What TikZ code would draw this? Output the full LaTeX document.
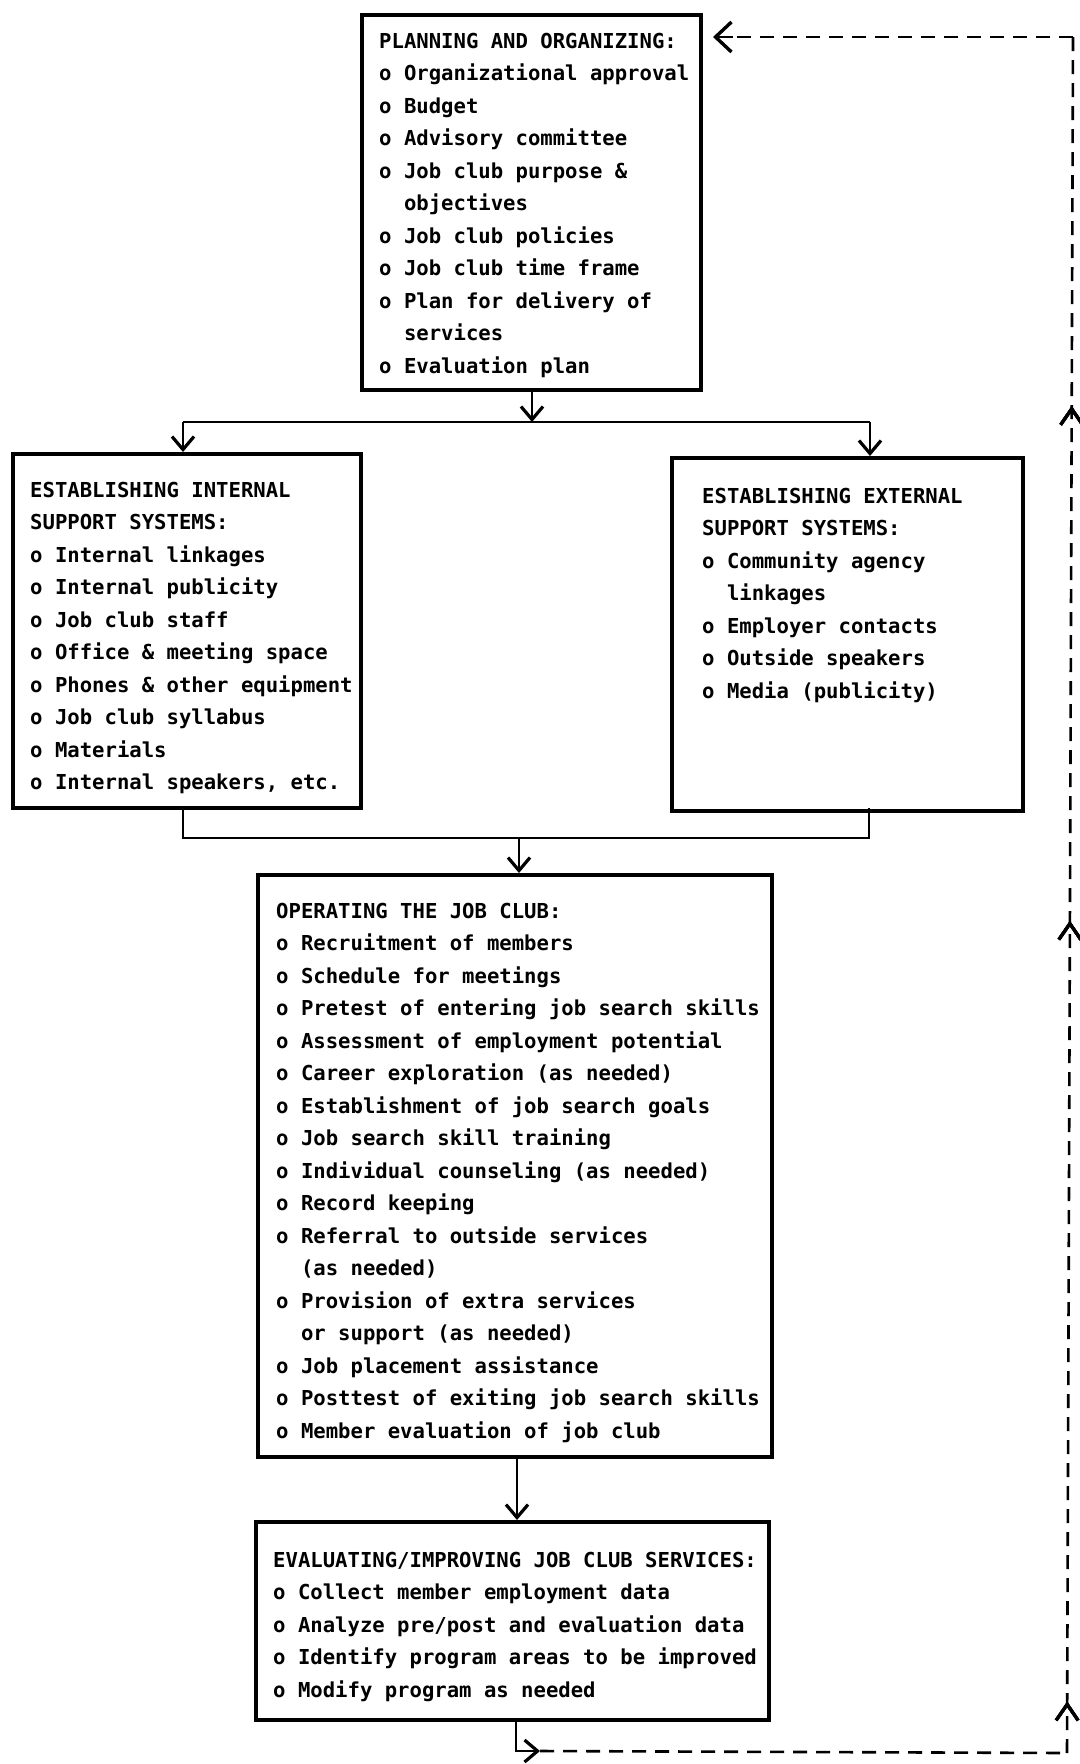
\documentclass[tikz,border=0pt]{standalone}
\usepackage{fontspec}
\newfontfamily\typew{DejaVu Sans Mono}
\usetikzlibrary{arrows.meta,decorations.markings,calc}
\tikzset{
  box/.style={draw=black, line width=3.6pt, fill=none, inner sep=0pt, anchor=north west},
  txt/.style={anchor=north west, inner sep=0pt, align=left,
    font=\typew\bfseries\fontsize{20.6pt}{32.5pt}\selectfont},
  conn/.style={draw=black, line width=2.6pt},
  tip/.style={-{Straight Barb[length=13pt,width=22pt,line width=3.2pt]}},
  dashline/.style={draw=black, line width=2.6pt, dash pattern=on 14pt off 9pt},
  uptip/.style={decoration={markings,
     mark=at position #1 with {\arrow{Straight Barb[length=16pt,width=22pt,line width=3.2pt]}}},
     postaction={decorate}}
}
\newcommand{\ind}{\phantom{o }}
\newcommand{\fs}{\rule{0pt}{16pt}}
\begin{document}
\begin{tikzpicture}[x=1pt,y=-1pt]
\useasboundingbox (0,0) rectangle (1079,1764);
\fill[white] (0,0) rectangle (1079,1764);

% boxes
\node[box, minimum width=339pt, minimum height=375pt] (b1) at (360,13) {};
\node[box, minimum width=348pt, minimum height=354pt] (b2) at (11,452) {};
\node[box, minimum width=351pt, minimum height=353pt] (b3) at (670,456) {};
\node[box, minimum width=514pt, minimum height=582pt] (b4) at (256,873) {};
\node[box, minimum width=513pt, minimum height=198pt] (b5) at (254,1520) {};

% texts
\node[txt] (t1) at (379,32) {\fs PLANNING AND ORGANIZING:\\
o Organizational approval\\
o Budget\\
o Advisory committee\\
o Job club purpose \&\\
\ind objectives\\
o Job club policies\\
o Job club time frame\\
o Plan for delivery of\\
\ind services\\
o Evaluation plan};

\node[txt] (t2) at (30,481) {\fs ESTABLISHING INTERNAL\\
SUPPORT SYSTEMS:\\
o Internal linkages\\
o Internal publicity\\
o Job club staff\\
o Office \& meeting space\\
o Phones \& other equipment\\
o Job club syllabus\\
o Materials\\
o Internal speakers, etc.};

\node[txt] (t3) at (702,487) {\fs ESTABLISHING EXTERNAL\\
SUPPORT SYSTEMS:\\
o Community agency\\
\ind linkages\\
o Employer contacts\\
o Outside speakers\\
o Media (publicity)};

\node[txt] (t4) at (276,902) {\fs OPERATING THE JOB CLUB:\\
o Recruitment of members\\
o Schedule for meetings\\
o Pretest of entering job search skills\\
o Assessment of employment potential\\
o Career exploration (as needed)\\
o Establishment of job search goals\\
o Job search skill training\\
o Individual counseling (as needed)\\
o Record keeping\\
o Referral to outside services\\
\ind (as needed)\\
o Provision of extra services\\
\ind or support (as needed)\\
o Job placement assistance\\
o Posttest of exiting job search skills\\
o Member evaluation of job club};

\node[txt] (t5) at (273,1551) {\fs EVALUATING/IMPROVING JOB CLUB SERVICES:\\
o Collect member employment data\\
o Analyze pre/post and evaluation data\\
o Identify program areas to be improved\\
o Modify program as needed};

% junction coordinates
\coordinate (s1) at (532,388);
\coordinate (j1) at (532,422);
\coordinate (jl) at (183,422);
\coordinate (jr) at (870,422);
\coordinate (s2) at (183,806);
\coordinate (s3) at (869,808);
\coordinate (j2) at (519,838);
\coordinate (s4) at (517,1455);
\coordinate (s5) at (516,1718);
\coordinate (c1) at (540,1751);
\coordinate (c2) at (1067,1753);
\coordinate (c3) at (1073,37);
\coordinate (c4) at (713,37);

% connectors
\draw[conn, tip] (s1) -- (j1);
\draw[conn] (jl) -- (jr);
\draw[conn, tip] (jl) -- (jl |- b2.north);
\draw[conn, tip] (jr) -- (jr |- b3.north);
\draw[conn] (s2) -- (s2 |- j2) -- (s3 |- j2) -- (s3);
\draw[conn, tip] (j2) -- (j2 |- b4.north);
\draw[conn, tip] (s4) -- (s4 |- b5.north);
\draw[conn, tip] (s5) |- (c1);

% feedback loop
\draw[dashline] (c1) -- (c2);
\draw[dashline, uptip=0.03, uptip=0.485, uptip=0.785] (c2) -- (c3);
\draw[dashline] (c3) -- (c4);
\draw[conn, -{Straight Barb[length=16pt,width=30pt,line width=3.4pt]}] ($(c4)+(20,0)$) -- (c4);
\end{tikzpicture}
\end{document}
